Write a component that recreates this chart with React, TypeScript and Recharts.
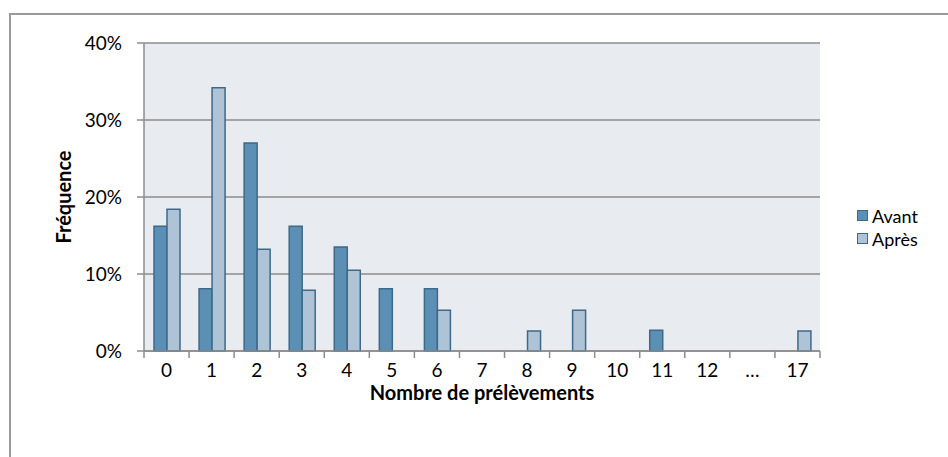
import React from 'react';
import {
  BarChart,
  Bar,
  XAxis,
  YAxis,
  CartesianGrid,
  Legend,
} from 'recharts';

// nombre de prélèvements (catégories de l'axe X)
const categories = ['0', '1', '2', '3', '4', '5', '6', '7', '8', '9', '10', '11', '12', '…', '17'];
// fréquences en %
const avant = [16.2, 8.1, 27.0, 16.2, 13.5, 8.1, 8.1, 0, 0, 0, 0, 2.7, 0, 0, 0];
const apres = [18.4, 34.2, 13.2, 7.9, 10.5, 0, 5.3, 0, 2.6, 5.3, 0, 0, 0, 0, 2.6];
const yTicks = [0, 10, 20, 30, 40];
const seriesNames = ['Avant', 'Après'];

const data = categories.map((c, i) => ({
  name: c,
  Avant: avant[i],
  'Après': apres[i],
}));

const FONT = 'Lato, Carlito, Calibri, sans-serif';
const AXIS_GRAY = '#8c8c8c';
const BAR_STROKE = '#3e6a8a';

// graduation entre catégories (à gauche de chaque libellé, plus une à la fin)
const CategoryTick = (props: any) => {
  const { x, y, payload, index } = props;
  const half = payload.offset || 0;
  const isLast = index === categories.length - 1;
  return (
    <g>
      <line x1={x - half} x2={x - half} y1={y} y2={y + 7} stroke={AXIS_GRAY} strokeWidth={1.5} />
      {isLast && (
        <line x1={x + half} x2={x + half} y1={y} y2={y + 7} stroke={AXIS_GRAY} strokeWidth={1.5} />
      )}
      <text x={x} y={y + 26} textAnchor="middle" fontFamily={FONT} fontSize={19} fill="#000">
        {payload.value}
      </text>
    </g>
  );
};

const LegendBox = (props: any) => {
  const { payload = [] } = props;
  const items = seriesNames
    .map((n) => payload.find((p: any) => p.value === n))
    .filter(Boolean);
  return (
    <div style={{ fontFamily: FONT, fontSize: 18, color: '#000' }}>
      {items.map((p: any) => (
        <div key={p.value} style={{ display: 'flex', alignItems: 'center', height: 23 }}>
          <span
            style={{
              display: 'inline-block',
              width: 9,
              height: 9,
              background: p.color,
              border: `1px solid ${BAR_STROKE}`,
              marginRight: 4,
            }}
          />
          <span>{p.value}</span>
        </div>
      ))}
    </div>
  );
};

const App: React.FC = () => {
  return (
    <div style={{ position: 'absolute', left: 0, top: 0, width: 948, height: 457, overflow: 'hidden', background: '#fff' }}>
      <div
        style={{
          position: 'absolute',
          left: 9,
          top: 13,
          width: 1000,
          height: 500,
          border: '2px solid #9a9a9a',
        }}
      />
      <div style={{ position: 'absolute', left: 0, top: 0 }}>
        <BarChart
          width={948}
          height={457}
          data={data}
          margin={{ top: 43, right: 128, left: 40, bottom: 39 }}
          barSize={13}
          barGap={0}
        >
          <CartesianGrid
            vertical={false}
            stroke={AXIS_GRAY}
            strokeWidth={1.3}
            fill="#e8ebf0"
          />
          <XAxis
            dataKey="name"
            type="category"
            interval={0}
            axisLine={{ stroke: AXIS_GRAY, strokeWidth: 1.5 }}
            tickLine={false}
            tickSize={0}
            tickMargin={0}
            height={67}
            tick={<CategoryTick />}
            label={{
              content: (p: any) => {
                const vb = p.viewBox;
                return (
                  <text
                    x={vb.x + vb.width / 2}
                    y={vb.y + 49}
                    textAnchor="middle"
                    fontFamily={FONT}
                    fontSize={20}
                    fontWeight="bold"
                    fill="#000"
                  >
                    Nombre de prélèvements
                  </text>
                );
              },
            }}
          />
          <YAxis
            domain={[0, 40]}
            ticks={yTicks}
            width={104}
            tickFormatter={(v: number) => `${v}%`}
            tickSize={7}
            tickMargin={15}
            axisLine={{ stroke: AXIS_GRAY, strokeWidth: 1.5 }}
            tickLine={{ stroke: AXIS_GRAY, strokeWidth: 1.5 }}
            tick={{ fontFamily: FONT, fontSize: 19, fill: '#000' }}
            label={{
              content: (p: any) => {
                const vb = p.viewBox;
                const cx = vb.x + 23;
                const cy = vb.y + vb.height / 2;
                return (
                  <text
                    x={cx}
                    y={cy}
                    transform={`rotate(-90 ${cx} ${cy})`}
                    textAnchor="middle"
                    dominantBaseline="central"
                    fontFamily={FONT}
                    fontSize={20}
                    fontWeight="bold"
                    fill="#000"
                  >
                    Fréquence
                  </text>
                );
              },
            }}
          />
          <Legend
            layout="horizontal"
            verticalAlign="middle"
            align="center"
            content={<LegendBox />}
            wrapperStyle={{ left: 857, top: 204, width: 90, height: 50 }}
          />
          <Bar
            dataKey="Avant"
            fill="#5b8fb4"
            stroke={BAR_STROKE}
            strokeWidth={1.5}
            isAnimationActive={false}
          />
          <Bar
            dataKey="Après"
            fill="#aec3d5"
            stroke={BAR_STROKE}
            strokeWidth={1.5}
            isAnimationActive={false}
          />
        </BarChart>
      </div>
    </div>
  );
};

export default App;
